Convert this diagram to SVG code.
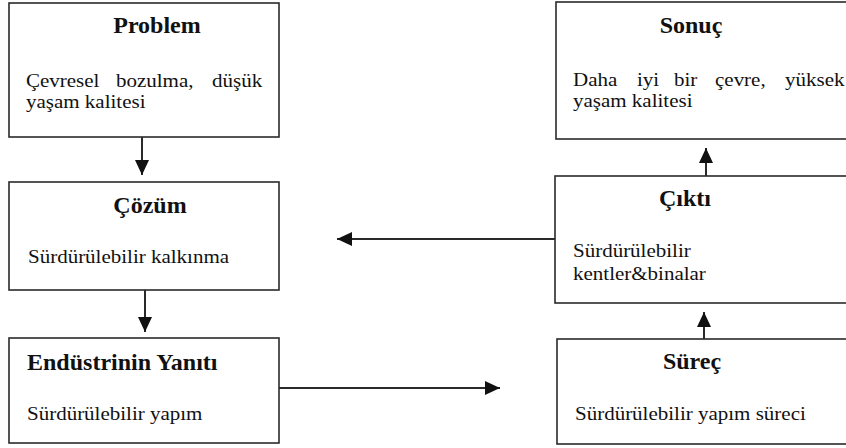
<svg xmlns="http://www.w3.org/2000/svg" width="846" height="448" viewBox="0 0 846 448" font-family="Liberation Serif, Times New Roman, serif">
  <style>
    .box { fill: #ffffff; stroke: #2a2a2a; stroke-width: 1.6; }
    .title { font-family: 'Liberation Serif', 'Times New Roman', serif; font-size: 24px; font-weight: bold; fill: #111; }
    .body { font-family: 'Liberation Serif', 'Times New Roman', serif; font-size: 21px; fill: #111; }
    .mid { text-anchor: middle; }
    .link { fill: none; stroke: #2a2a2a; stroke-width: 2; }
  </style>
  <defs>
    <marker id="arrow" markerUnits="userSpaceOnUse" markerWidth="15" markerHeight="14" refX="15" refY="7" orient="auto">
      <path d="M0,0 L15,7 L0,14 Z" fill="#111"/>
    </marker>
  </defs>

  <rect width="846" height="448" fill="#ffffff"/>

  <!-- Left column; body lines are set slightly condensed vertically -->
  <g id="problem">
    <rect class="box" x="9" y="3" width="270" height="134"/>
    <text class="title mid" x="157" y="33">Problem</text>
    <text class="body" transform="translate(26 87) scale(1 0.88)"><tspan x="0">Çevresel</tspan><tspan x="90">bozulma,</tspan><tspan x="186">düşük</tspan></text>
    <text class="body" transform="translate(26 108) scale(1 0.88)">yaşam kalitesi</text>
  </g>

  <g id="cozum">
    <rect class="box" x="9" y="182" width="270" height="108"/>
    <text class="title mid" x="150" y="213">Çözüm</text>
    <text class="body" transform="translate(28 263) scale(1 0.88)">Sürdürülebilir kalkınma</text>
  </g>

  <g id="endustri">
    <rect class="box" x="9" y="338" width="270" height="105"/>
    <text class="title" x="27" y="370">Endüstrinin Yanıtı</text>
    <text class="body" transform="translate(27 420) scale(1 0.88)">Sürdürülebilir yapım</text>
  </g>

  <!-- Right column -->
  <g id="sonuc">
    <rect class="box" x="556" y="2" width="300" height="137"/>
    <text class="title mid" x="691" y="33">Sonuç</text>
    <text class="body" transform="translate(573 86) scale(1 0.88)"><tspan x="0">Daha</tspan><tspan x="64">iyi</tspan><tspan x="101">bir</tspan><tspan x="142">çevre,</tspan><tspan x="212">yüksek</tspan></text>
    <text class="body" transform="translate(573 107) scale(1 0.88)">yaşam kalitesi</text>
  </g>

  <g id="cikti">
    <rect class="box" x="555" y="176" width="300" height="127"/>
    <text class="title mid" x="685" y="206">Çıktı</text>
    <text class="body" transform="translate(573 257) scale(1 0.88)">Sürdürülebilir</text>
    <text class="body" transform="translate(573 280) scale(1 0.88)">kentler&amp;binalar</text>
  </g>

  <g id="surec">
    <rect class="box" x="557" y="339" width="300" height="105"/>
    <text class="title mid" x="692" y="369">Süreç</text>
    <text class="body" transform="translate(575 420) scale(1 0.88)">Sürdürülebilir yapım süreci</text>
  </g>

  <!-- Connectors -->
  <g id="connectors">
    <line class="link" x1="142" y1="137" x2="142" y2="175" marker-end="url(#arrow)"/>
    <line class="link" x1="145" y1="290" x2="145" y2="332" marker-end="url(#arrow)"/>
    <line class="link" x1="279" y1="388" x2="500" y2="388" marker-end="url(#arrow)"/>
    <line class="link" x1="704" y1="339" x2="704" y2="312" marker-end="url(#arrow)"/>
    <line class="link" x1="706" y1="176" x2="706" y2="148" marker-end="url(#arrow)"/>
    <line class="link" x1="555" y1="239" x2="337" y2="239" marker-end="url(#arrow)"/>
  </g>
</svg>
